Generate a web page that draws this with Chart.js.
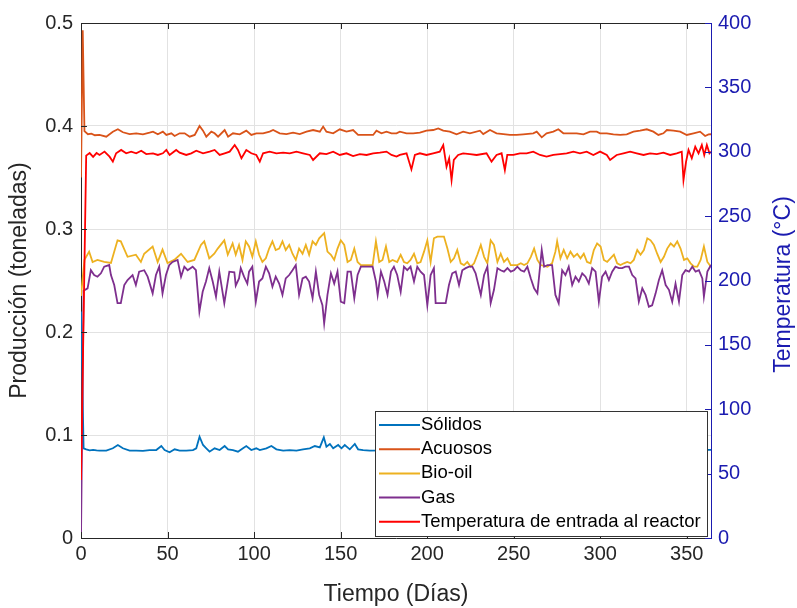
<!DOCTYPE html>
<html><head><meta charset="utf-8">
<script src="https://cdn.jsdelivr.net/npm/chart.js@4.4.1/dist/chart.umd.min.js"></script>
<style>html,body{margin:0;padding:0;background:#fff}#wrap{width:797px;height:608px}</style>
</head><body><div id="wrap"><canvas id="c" width="797" height="608"></canvas></div>
<script>
// ---- data (days, values) ----
const solDays = [0,1.5,3,5,7,9,10.7,14.6,18.4,21.3,24.2,28.1,31.9,35.8,39.6,43.5,46.4,48.3,51.2,54.1,57,60.8,64.7,66.6,68.5,70.5,72.4,74.3,77.2,80.1,83,85,87.8,90.7,93.6,95.5,98.4,101.3,103.3,107.1,110,112.9,116.8,120.6,124.5,128.3,132.2,135.1,138,140.3,141.8,143.8,145.7,148.6,150.5,152.4,155.3,158.2,160.1,163,166.9,175,190,210,240,270,300,330,364];
const solVals = [0.22,0.087,0.086,0.085,0.0855,0.085,0.0848,0.0848,0.0871,0.0903,0.0871,0.0848,0.0848,0.0845,0.0854,0.0854,0.0893,0.0854,0.0832,0.0861,0.0848,0.0848,0.0854,0.0871,0.0984,0.0903,0.0871,0.0838,0.0871,0.0854,0.0893,0.0861,0.0854,0.0838,0.0871,0.0893,0.0854,0.0871,0.0854,0.0871,0.0893,0.0861,0.0848,0.0854,0.0848,0.0861,0.0871,0.0893,0.088,0.0977,0.0887,0.0913,0.0871,0.0903,0.0871,0.0903,0.0861,0.0913,0.0861,0.0854,0.0848,0.085,0.086,0.085,0.0855,0.085,0.086,0.085,0.0855];

const acuDays = [0,1,2,4,6,8,10.7,14.6,18.4,21.3,24.2,28.1,31.9,35.8,39.6,41.6,44.4,47.3,49.3,52.2,54.1,57,59.9,62.8,65.7,68.5,70.5,72.4,75.3,77.2,79.2,83,85,87.8,91.7,95.5,98.4,101.3,105.2,109,111,114.8,118.7,122.5,126.4,130.3,134.1,138,139.9,141.8,145.7,149.5,153.4,157.2,160.1,165,168.8,170.7,173.6,176.5,179.4,182.3,184.2,188.1,191.9,195.8,199.6,203.5,206.4,209.3,213.1,217,220.8,224.7,230.5,232.4,236.3,240.1,244,247.8,251.7,255.5,261.3,263.3,266.2,269,272.9,275.8,278.7,282.5,286.4,290.3,294.1,298,299.9,303.8,307.6,311.5,315.3,319.2,323,326.9,330.7,333.6,336.5,338.5,342.3,346.2,350,353.9,357.7,360.6,362.6,364];
const acuVals = [0.35,0.493,0.395,0.392,0.3925,0.391,0.3913,0.3896,0.3945,0.3968,0.3939,0.3922,0.3929,0.3919,0.3935,0.3945,0.3919,0.3945,0.3913,0.3929,0.3903,0.3929,0.3929,0.3896,0.3913,0.4,0.3955,0.3896,0.3945,0.3929,0.3896,0.3961,0.3896,0.3929,0.3919,0.3955,0.3913,0.3929,0.3929,0.3945,0.3961,0.3929,0.3922,0.3935,0.3922,0.3945,0.3961,0.3945,0.3994,0.3945,0.3929,0.3968,0.3945,0.3961,0.3913,0.3913,0.3913,0.3955,0.3929,0.3945,0.3929,0.3929,0.3945,0.3929,0.3929,0.3935,0.3955,0.3961,0.3977,0.3955,0.3945,0.3919,0.3945,0.3929,0.3955,0.3922,0.3961,0.3929,0.3922,0.3913,0.3913,0.3919,0.3929,0.3945,0.389,0.3929,0.3945,0.3968,0.3929,0.3929,0.3929,0.3919,0.3945,0.3945,0.3929,0.3929,0.3919,0.3913,0.3919,0.3945,0.3955,0.3968,0.3945,0.3913,0.3929,0.3961,0.3955,0.3945,0.3913,0.3929,0.3945,0.3903,0.3919,0.392];

const bioDays = [0,2,4.7,6.7,9.5,13.4,17.3,21.1,23,26.9,31.7,34.6,36.5,41.4,44.3,47.1,50,53.9,57.8,61.6,65.5,69.3,71.2,74.1,77,79,82.8,84.8,87.6,89.4,91.3,93.3,95.2,97.1,99,101,102.9,104.8,106.8,108.7,110.6,112.5,114.5,116.4,118.3,120.3,122.2,124.1,126,128,129.9,131.8,133.8,135.7,137.6,140.5,142.4,144.4,146.3,148.2,150.1,152.1,154,155.9,157.9,159.8,161.7,168.5,170.4,172.3,174.2,176.2,178.1,180,182.7,184.7,186.6,188.5,190.4,192.4,194.3,196.2,198.2,200.1,202,203.9,205.9,209.7,211.7,213.6,215.5,217.4,219.4,221.3,223.2,225.2,227.1,229,231,232.9,234.8,236.7,238.6,240.6,242.5,244.4,246.4,248.3,252.1,254.1,256,257.9,259.9,261.8,263.7,265.6,269.5,272.2,274.1,275.1,277,278.9,280.9,282.8,284.7,286.7,288.6,290.5,292.4,294.4,296.3,298.2,300.2,302.1,304,305.9,307.9,309.8,311.7,313.7,315.6,317.5,319.4,321.4,323.3,325.2,327.2,329.1,331,332.9,334.9,336.8,338.7,340.7,342.6,344.5,346.4,348.4,350.3,352.2,354.2,356.1,358,359.9,361.9,364];
const bioVals = [0.235,0.27,0.278,0.268,0.27,0.268,0.267,0.289,0.288,0.273,0.275,0.268,0.276,0.283,0.268,0.28,0.267,0.27,0.276,0.268,0.27,0.2845,0.288,0.2715,0.276,0.281,0.289,0.275,0.286,0.275,0.2845,0.27,0.288,0.283,0.273,0.288,0.275,0.268,0.2715,0.281,0.288,0.2796,0.281,0.288,0.2796,0.2845,0.276,0.27,0.281,0.276,0.2845,0.275,0.288,0.2845,0.291,0.296,0.278,0.275,0.27,0.281,0.289,0.2845,0.268,0.27,0.281,0.268,0.265,0.265,0.288,0.268,0.27,0.283,0.268,0.27,0.268,0.275,0.268,0.2667,0.27,0.276,0.2667,0.268,0.278,0.289,0.268,0.291,0.2926,0.2926,0.281,0.268,0.2715,0.2796,0.2667,0.265,0.268,0.2634,0.2667,0.275,0.2845,0.273,0.2667,0.289,0.2845,0.268,0.276,0.268,0.2715,0.265,0.265,0.2667,0.265,0.2667,0.273,0.281,0.27,0.265,0.2634,0.2667,0.278,0.288,0.2715,0.2796,0.2715,0.278,0.273,0.276,0.2715,0.276,0.268,0.2667,0.2796,0.286,0.283,0.27,0.268,0.2715,0.275,0.2667,0.265,0.2667,0.268,0.2667,0.27,0.2796,0.275,0.2796,0.291,0.289,0.2845,0.276,0.268,0.273,0.281,0.286,0.283,0.288,0.281,0.27,0.2715,0.2667,0.2634,0.2634,0.27,0.283,0.268,0.2634];

const gasDays = [0,1.5,3.8,5.7,7.6,9.5,11.5,13.4,16.3,17.3,19.2,21.1,23,25,26.9,29.8,31.7,33.6,36.5,38.5,41.4,43.3,45.2,47.1,49.1,51,52.9,55.8,57.8,59.7,61.6,64.5,66.4,68.4,70.3,72.2,74.1,76.1,78,79.9,82.8,85.7,88.6,89.4,91.3,92.3,94.2,96.1,97.1,99,101,102.9,104.8,106.8,108.7,110.6,112.5,114.5,116.4,118.3,120.3,122.2,124.1,126,128,129.9,131.8,133.8,135.7,137.6,139.5,140.5,142.4,144.4,146.3,148.2,150.1,152.1,154,155.9,157.9,159.8,161.7,168.5,170.4,171.4,173.3,175.2,177.1,179.1,180.8,182.7,184.7,186.6,188.5,190.4,192.4,194.3,196.2,198.2,200.1,202,203.9,204.9,210.7,212.6,214.5,216.5,218.4,220.3,222.3,224.2,226.1,228,231,232.9,234.8,236.7,238.6,240.6,242.5,244.4,246.4,248.3,250.2,252.1,254.1,256,257.9,259.9,261.8,263.7,266.2,267.6,269.5,272.2,274.1,276,278,279.9,281.8,283.8,285.7,287.6,289.6,291.5,293.4,295.3,297.3,299.2,301.1,303.1,305,306.9,308.8,310.8,312.7,314.6,316.6,318.5,320.4,322.3,324.3,326.2,328.1,330,332,333.9,335.8,337.8,339.7,341.6,343.5,345.5,347.4,349.3,351.3,353.2,355.1,357,359,359.9,361.9,364];
const gasVals = [0,0.24,0.2424,0.26,0.2553,0.2537,0.257,0.2634,0.265,0.2553,0.2456,0.228,0.228,0.2456,0.2505,0.2553,0.2456,0.2586,0.26,0.2537,0.2375,0.2553,0.2634,0.2375,0.2553,0.265,0.268,0.27,0.2537,0.2634,0.26,0.2634,0.26,0.2197,0.239,0.249,0.262,0.249,0.2343,0.2586,0.228,0.2586,0.258,0.245,0.252,0.262,0.2537,0.247,0.2586,0.2634,0.2294,0.249,0.252,0.2634,0.257,0.244,0.2537,0.247,0.236,0.252,0.2553,0.26,0.265,0.236,0.252,0.2537,0.249,0.2327,0.2586,0.236,0.226,0.2084,0.236,0.257,0.247,0.2586,0.2294,0.228,0.2586,0.2586,0.2327,0.2553,0.2634,0.2634,0.249,0.236,0.2586,0.249,0.236,0.2586,0.2634,0.2553,0.239,0.2634,0.26,0.2634,0.249,0.2634,0.2586,0.2553,0.226,0.2553,0.262,0.228,0.228,0.2456,0.257,0.2586,0.2456,0.26,0.262,0.2634,0.2634,0.257,0.236,0.2553,0.2634,0.228,0.241,0.262,0.26,0.2586,0.262,0.2586,0.26,0.2634,0.26,0.2586,0.2634,0.252,0.2424,0.2375,0.2796,0.2634,0.265,0.265,0.236,0.228,0.26,0.2553,0.2634,0.2456,0.2537,0.249,0.257,0.2537,0.247,0.262,0.2586,0.2294,0.2537,0.2586,0.2505,0.2586,0.2634,0.262,0.262,0.2634,0.2634,0.2553,0.252,0.2294,0.2424,0.236,0.2246,0.226,0.2375,0.2505,0.26,0.2456,0.241,0.2294,0.247,0.2294,0.2553,0.26,0.2586,0.2634,0.2586,0.26,0.252,0.2343,0.2586,0.265];

const tempDays = [0,3,5,7,9,10.7,13.6,16.5,18.4,20.3,23.2,26.1,29,31.9,34.8,37.7,41.6,44.4,47.3,49.3,51.2,55,57,60.8,63.7,66.6,70.5,74.3,77.2,80.1,83,85.9,88.8,90.7,92.7,95.5,98.4,101.3,103.3,105.2,109,112.9,116.8,120.6,124.5,128.3,132.2,134.1,138,141.8,145.7,149.5,153.4,157.2,161.1,165,168.8,172.7,176.5,179.4,182.3,184.2,188.1,190.9,192.9,195.8,199.6,203.5,207.3,209.3,211.2,212.7,214.1,215.4,217.9,220.8,224.7,228.6,234.3,237.2,240.1,243,244.9,246.3,249.8,253.6,257.5,261.3,265.2,269,272.9,276.8,280.6,284.5,288.3,292.2,296,299.9,303.8,305.7,309.5,313.4,317.3,321.1,325,328.8,332.7,336.5,340.4,344.2,347.1,348.1,349.6,351,352.9,354.9,356.8,358.7,360.1,361.6,363.1,364];
const tempVals = [45,297,299,296,299,297.5,300.1,296.2,292.3,298.8,301.4,298.8,300.1,298.8,300.8,298.2,298.8,297.5,298.8,301.4,297.5,301.4,299.3,297.5,298.8,300.8,298.8,300.1,301.4,297.5,298.8,300.1,305.2,301.4,294.9,301.4,298.8,297.5,292.3,298.8,300.1,298.8,299.3,298.8,300.1,298.8,297.5,293.6,298.8,298.2,300.1,297.5,298.8,296.7,298.2,297.5,298.8,299.3,300.1,297.5,296.2,297.5,298.8,286.3,297.5,298.8,297.5,298.8,300.1,305.2,288.4,294.9,278,293.6,297.5,298.8,298.2,297.5,298.8,292.3,297.5,298.8,285.8,297.5,297.5,298.8,298.8,300.1,297.5,296.2,297.5,298.2,298.8,300.1,298.8,300.1,297.5,300.1,297.5,293.6,297.5,298.8,300.1,298.8,297.5,298.8,298.2,299.3,297.5,298.8,300.1,278,292.3,301.4,294.9,303.9,298.8,305.2,297.5,305.2,298.8,300];

const seriesNames = ['Sólidos','Acuosos','Bio-oil','Gas','Temperatura de entrada al reactor'];
const xTickValues = [0,50,100,150,200,250,300,350];
const rightTitle = 'Temperatura (°C)';

const BLUE_AX = '#1b1bb0';
const TXT = '#262626';
const FONT = "'Liberation Sans', Arial, Helvetica, sans-serif";
const colors = ['#0072BD','#D95319','#EDB120','#7E2F8E','#FF0000'];

const pts = (d, v) => d.map((x, i) => ({x: x, y: v[i]}));

const framePlugin = {
  id: 'frame',
  afterDraw(chart) {
    const {ctx, chartArea: a, scales} = chart;
    ctx.save();
    ctx.strokeStyle = TXT; ctx.lineWidth = 1;
    ctx.beginPath(); ctx.moveTo(a.left, a.top + 0.5); ctx.lineTo(a.right, a.top + 0.5); ctx.stroke();
    const tl = 6;
    ctx.beginPath();
    scales.x.ticks.forEach(t => {
      const px = Math.round(scales.x.getPixelForValue(t.value)) + 0.5;
      ctx.moveTo(px, a.bottom); ctx.lineTo(px, a.bottom - tl);
      ctx.moveTo(px, a.top); ctx.lineTo(px, a.top + tl);
    });
    scales.y.ticks.forEach(t => {
      const py = Math.round(scales.y.getPixelForValue(t.value)) + 0.5;
      ctx.moveTo(a.left, py); ctx.lineTo(a.left + tl, py);
    });
    ctx.stroke();
    ctx.strokeStyle = BLUE_AX;
    ctx.beginPath();
    scales.y2.ticks.forEach(t => {
      const py = Math.round(scales.y2.getPixelForValue(t.value)) + 0.5;
      ctx.moveTo(a.right, py); ctx.lineTo(a.right - tl, py);
    });
    ctx.stroke();
    // right axis title, reading bottom-to-top
    ctx.save();
    ctx.translate(784, (a.top + a.bottom) / 2 + 4);
    ctx.rotate(-Math.PI / 2);
    ctx.font = '23px ' + FONT;
    ctx.fillStyle = BLUE_AX; ctx.textAlign = 'center'; ctx.textBaseline = 'middle';
    ctx.fillText(rightTitle, 0, 0);
    ctx.restore();
    // legend box
    const lx = 375, ly = 411, lw = 332, lh = 125;
    ctx.fillStyle = '#ffffff';
    ctx.fillRect(lx, ly, lw, lh);
    ctx.strokeStyle = '#333333'; ctx.lineWidth = 1;
    ctx.strokeRect(lx + 0.5, ly + 0.5, lw, lh);
    ctx.font = '18.5px ' + FONT;
    ctx.textBaseline = 'middle'; ctx.textAlign = 'left';
    seriesNames.forEach((n, i) => {
      const cy = 425 + i * 24.2;
      ctx.strokeStyle = colors[i]; ctx.lineWidth = 2;
      ctx.beginPath(); ctx.moveTo(379, cy); ctx.lineTo(420, cy); ctx.stroke();
      ctx.fillStyle = '#000000';
      ctx.fillText(n, 421, cy);
    });
    ctx.restore();
  }
};

new Chart(document.getElementById('c'), {
  type: 'line',
  data: {
    datasets: [
      {label: seriesNames[0], data: pts(solDays, solVals), borderColor: colors[0], yAxisID: 'y', order: 5},
      {label: seriesNames[1], data: pts(acuDays, acuVals), borderColor: colors[1], yAxisID: 'y', order: 4},
      {label: seriesNames[2], data: pts(bioDays, bioVals), borderColor: colors[2], yAxisID: 'y', order: 3},
      {label: seriesNames[3], data: pts(gasDays, gasVals), borderColor: colors[3], yAxisID: 'y', order: 2},
      {label: seriesNames[4], data: pts(tempDays, tempVals), borderColor: colors[4], yAxisID: 'y2', order: 1}
    ]
  },
  options: {
    responsive: false, animation: false, devicePixelRatio: 1,
    layout: {padding: {top: 23, left: 0, right: 0, bottom: 0}},
    plugins: {legend: {display: false}, tooltip: {enabled: false}},
    elements: {point: {radius: 0}, line: {borderWidth: 1.8, tension: 0}},
    scales: {
      x: {
        type: 'linear', min: 0, max: 364,
        afterFit(s) { s.height = 70; },
        afterBuildTicks(s) { s.ticks = xTickValues.map(v => ({value: v})); },
        ticks: {font: {size: 20, family: FONT}, color: TXT, padding: 4, maxRotation: 0},
        grid: {color: '#e2e2e2', drawTicks: false},
        border: {color: TXT},
        title: {display: true, text: 'Tiempo (Días)', font: {size: 23, family: FONT}, color: TXT, padding: {top: 0, bottom: 0}}
      },
      y: {
        position: 'left', min: 0, max: 0.5,
        afterFit(s) { s.width = 81; },
        ticks: {stepSize: 0.1, font: {size: 20, family: FONT}, color: TXT, padding: 8},
        grid: {color: '#e2e2e2', drawTicks: false},
        border: {color: TXT},
        title: {display: true, text: 'Producción (toneladas)', font: {size: 23, family: FONT}, color: TXT, padding: {top: 6, bottom: 0}}
      },
      y2: {
        position: 'right', min: 0, max: 400,
        afterFit(s) { s.width = 86; },
        ticks: {stepSize: 50, font: {size: 20, family: FONT}, color: BLUE_AX, padding: 7},
        grid: {display: false, drawTicks: false},
        border: {color: BLUE_AX},
        title: {display: false}
      }
    }
  },
  plugins: [framePlugin]
});
</script>
</body></html>
